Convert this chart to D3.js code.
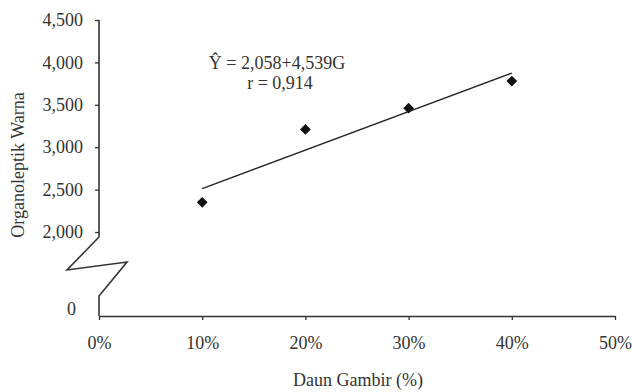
<!DOCTYPE html>
<html>
<head>
<meta charset="utf-8">
<script src="https://cdn.jsdelivr.net/npm/d3@7"></script>
<style>
  html, body { margin: 0; padding: 0; background: #fff; }
  svg { display: block; }
  text { font-family: "Liberation Serif", "Times New Roman", serif; fill: #333; }
</style>
</head>
<body>
<svg id="chart" width="632" height="392"></svg>
<script>
// Daun gambir dose (fraction) and mean colour score
const doses = [0.1, 0.2, 0.3, 0.4];
const warna = [2.35, 3.21, 3.46, 3.78];

// Axis ticks
const xTicks = [0, 0.1, 0.2, 0.3, 0.4, 0.5];
const yTicks = [2.0, 2.5, 3.0, 3.5, 4.0, 4.5];

// Linear fit Y = a + bG
const fitIntercept = 2.058;
const fitSlope = 4.539;
const fitR = 0.914;
const fitRange = [0.1, 0.4];

const svg = d3.select("#chart");
const ink = "#333";
const fs = 18;
const fmtDec = v => v.toFixed(3).replace(".", ",");

const x = d3.scaleLinear().domain([0, 0.5]).range([99, 615]);
const y = d3.scaleLinear().domain([2.0, 4.5]).range([232, 20]);
const xAxisY = 316;

// Y axis (upper section only, broken below 2,000)
const yAxis = svg.append("g")
  .attr("transform", `translate(${x(0)},0)`)
  .call(d3.axisLeft(y).tickValues(yTicks).tickFormat(fmtDec).tickSize(4).tickSizeOuter(0).tickPadding(12));
yAxis.select(".domain").remove();
yAxis.selectAll("line").attr("stroke", ink).attr("stroke-width", 1.3);
yAxis.selectAll("text").attr("font-size", fs).attr("fill", ink)
  .attr("font-family", "Liberation Serif, serif");

// Axis spine with zig-zag break
const x0 = x(0);
svg.append("path")
  .attr("d", d3.line()([
    [x0, y(4.5)], [x0, 237], [x0 - 32, 270], [x0 + 28, 262],
    [x0, 296], [x0, xAxisY]
  ]))
  .attr("fill", "none").attr("stroke", ink).attr("stroke-width", 1.6);

// Zero label below the break
svg.append("text")
  .attr("x", 76).attr("y", xAxisY - 5)
  .attr("text-anchor", "end").attr("dominant-baseline", "middle")
  .attr("font-size", fs).text("0");

// X axis
const xAxis = svg.append("g")
  .attr("transform", `translate(0,${xAxisY})`)
  .call(d3.axisBottom(x).tickValues(xTicks).tickFormat(d3.format(".0%")).tickSize(4).tickSizeOuter(0).tickPadding(16));
xAxis.select(".domain").attr("stroke", ink).attr("stroke-width", 1.6);
xAxis.selectAll("line").attr("stroke", ink).attr("stroke-width", 1.3);
xAxis.selectAll("text").attr("font-size", fs).attr("fill", ink)
  .attr("font-family", "Liberation Serif, serif");

// Regression line
svg.append("path")
  .attr("d", d3.line()(fitRange.map(g => [x(g), y(fitIntercept + fitSlope * g)])))
  .attr("stroke", "#222").attr("stroke-width", 1.4).attr("fill", "none");

// Observed points (diamonds)
svg.selectAll(".pt").data(doses.map((g, i) => ({ g, v: warna[i] })))
  .join("path")
  .attr("class", "pt")
  .attr("d", d3.symbol().type(d3.symbolSquare).size(58))
  .attr("transform", d => `translate(${x(d.g)},${y(d.v)}) rotate(45)`)
  .attr("fill", "#111");

// Equation annotation
svg.append("text")
  .attr("x", 277).attr("y", 69)
  .attr("text-anchor", "middle").attr("font-size", fs)
  .text(`Ŷ = ${fmtDec(fitIntercept)}+${fmtDec(fitSlope)}G`);
svg.append("text")
  .attr("x", 280).attr("y", 89)
  .attr("text-anchor", "middle").attr("font-size", fs)
  .text(`r = ${fmtDec(fitR)}`);

// Axis titles
svg.append("text")
  .attr("x", 358).attr("y", 386)
  .attr("text-anchor", "middle").attr("font-size", fs)
  .text("Daun Gambir (%)");
svg.append("text")
  .attr("transform", "translate(24,165) rotate(-90)")
  .attr("text-anchor", "middle").attr("font-size", fs)
  .text("Organoleptik Warna");
</script>
</body>
</html>
